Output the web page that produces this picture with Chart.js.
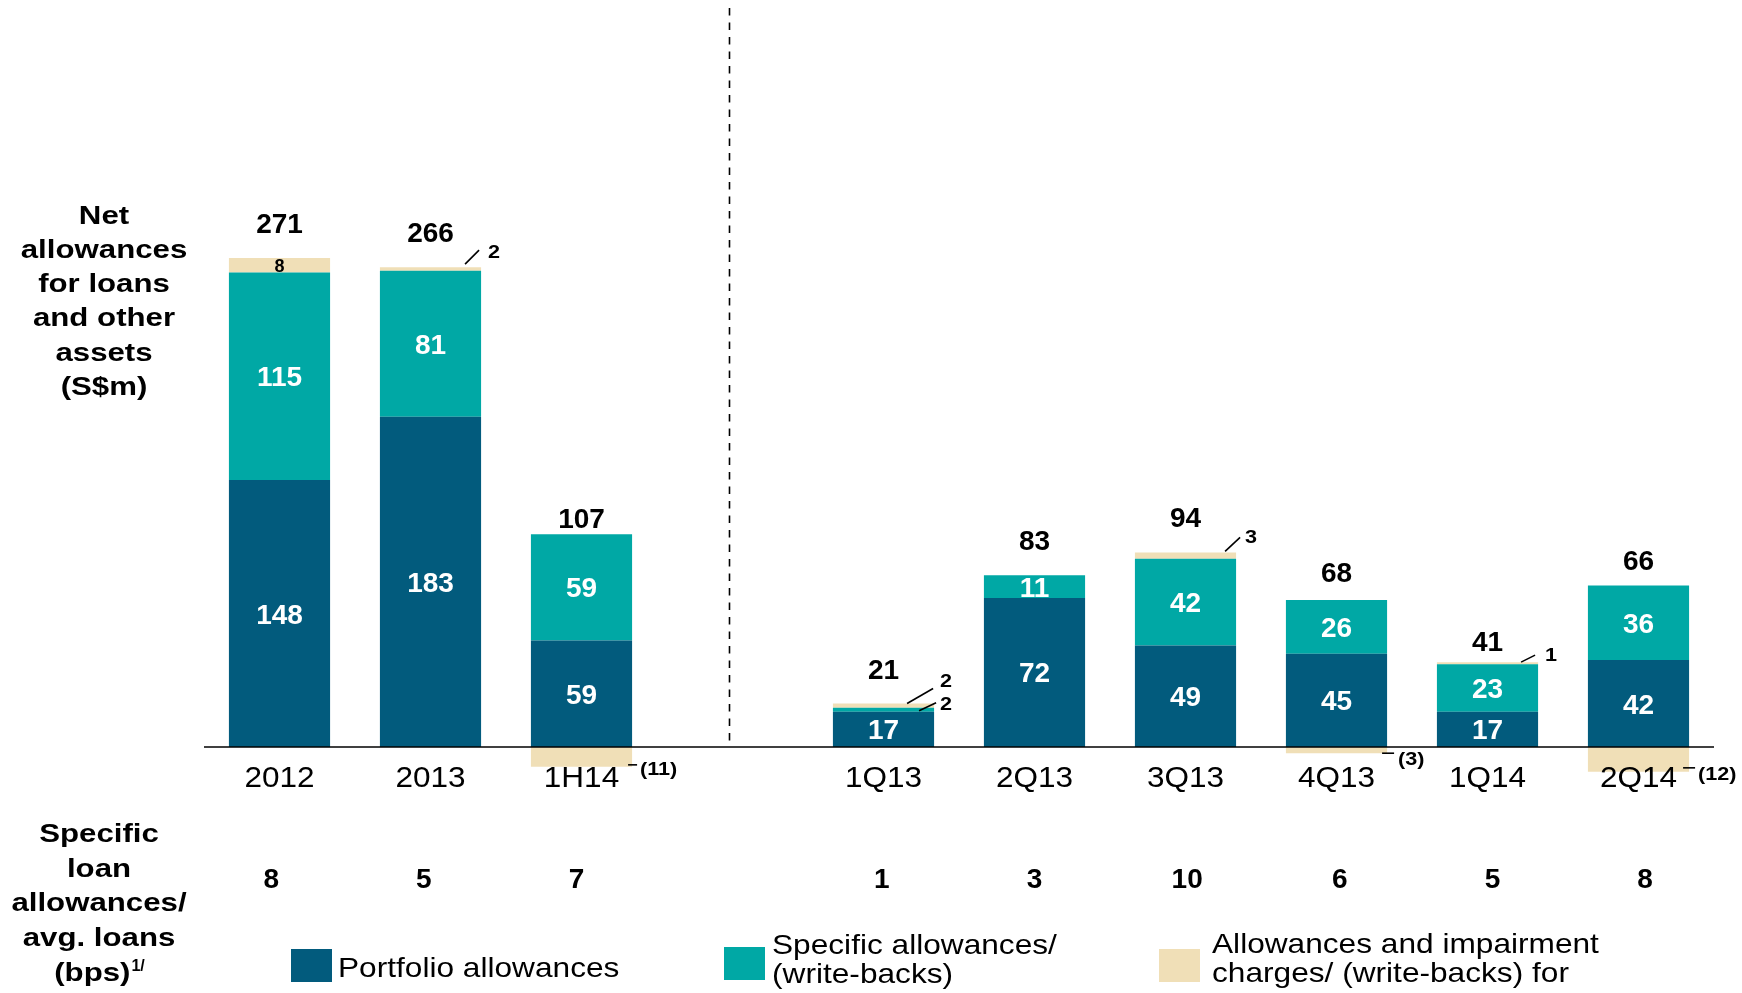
<!DOCTYPE html>
<html>
<head>
<meta charset="utf-8">
<title>Net allowances for loans and other assets</title>
<script src="https://cdn.jsdelivr.net/npm/chart.js@4.4.1/dist/chart.umd.min.js"></script>
<style>
  html, body { margin: 0; padding: 0; background: #fff; }
  #wrap { width: 1742px; height: 993px; position: relative; }
</style>
</head>
<body>
<div id="wrap"><canvas id="chart"></canvas></div>
<script>
const categorias = ['2012', '2013', '1H14', '', '1Q13', '2Q13', '3Q13', '4Q13', '1Q14', '2Q14'];
const portfolio = [148, 183, 59, null, 17, 72, 49, 45, 17, 42];
const specific = [115, 81, 59, null, 2, 11, 42, 26, 23, 36];
const otherAssets = [8, 2, -11, null, 2, 0, 3, -3, 1, -12];
const bps = [8, 5, 7, null, 1, 3, 10, 6, 5, 8];
const annualCount = 3;

const seriesNames = ['Portfolio allowances', 'Specific allowances/ (write-backs)', 'Allowances and impairment charges/ (write-backs) for other assets'];
const cores = ['#025b7d', '#00a8a5', '#f0dfb7'];

const tituloTopo = ['Net', 'allowances', 'for loans', 'and other', 'assets', '(S$m)'];
const tituloBase = ['Specific', 'loan', 'allowances/', 'avg. loans', '(bps)'];

const FONT = "'Liberation Sans', Arial, sans-serif";

// small segments labelled outside the bar: line and text offsets from (bar right edge, segment end)
const callouts = [
  { i: 1, k: 2, txt: '2', line: [-16, -3, -2, -17], at: [7, -9] },
  { i: 4, k: 2, txt: '2', line: [-27, 0, -1, -15], at: [6, -17] },
  { i: 4, k: 1, txt: '2', line: [-15, 3, 2, -5], at: [6, 2] },
  { i: 6, k: 2, txt: '3', line: [-11, -1, 4, -15], at: [9, -9] },
  { i: 8, k: 2, txt: '1', line: [-17, 0, -3, -7], at: [7, -1] },
  { i: 2, k: 2, txt: '(11)', line: [-4, -2, 5, -2], at: [8, 8] },
  { i: 7, k: 2, txt: '(3)', line: [-5, 0, 7, 0], at: [11, 12] },
  { i: 9, k: 2, txt: '(12)', line: [-6, -4, 6, -4], at: [9, 8] }
];
const totalGap = [25, 25, 6, 0, 25, 25, 25, 18, 11, 16];

function txt(ctx, s, x, y, font, color, align, sx) {
  sx = sx || 1;
  ctx.save();
  ctx.font = font;
  const w = ctx.measureText(s).width * sx;
  let left = x;
  if (align === 'center') left = x - w / 2;
  if (align === 'right') left = x - w;
  ctx.translate(left, y);
  ctx.scale(sx, 1);
  ctx.fillStyle = color || '#000';
  ctx.textAlign = 'left';
  ctx.textBaseline = 'alphabetic';
  ctx.fillText(s, 0, 0);
  ctx.restore();
  return w;
}

function linha(ctx, x1, y1, x2, y2, dash) {
  ctx.save();
  ctx.strokeStyle = '#000';
  ctx.lineWidth = 1.6;
  if (dash) ctx.setLineDash(dash);
  ctx.beginPath();
  ctx.moveTo(x1, y1);
  ctx.lineTo(x2, y2);
  ctx.stroke();
  ctx.restore();
}

function split(arr, annual) {
  return arr.map((v, i) => ((i < annualCount) === annual ? v : null));
}

const datasets = [];
[true, false].forEach(annual => {
  [portfolio, specific, otherAssets].forEach((arr, k) => {
    datasets.push({
      label: seriesNames[k],
      data: split(arr, annual),
      backgroundColor: cores[k],
      borderWidth: 0,
      yAxisID: annual ? 'yA' : 'yQ',
      stack: 's',
      barPercentage: 0.67,
      categoryPercentage: 1
    });
  });
});

const desenho = {
  id: 'desenho',
  afterDatasetsDraw(chart) {
    const ctx = chart.ctx;
    const xs = chart.scales.x;
    const area = chart.chartArea;
    const zero = chart.scales.yA.getPixelForValue(0);
    const seriesData = [portfolio, specific, otherAssets];
    const bar = (i, k) => chart.getDatasetMeta((i < annualCount ? 0 : 3) + k).data[i];

    categorias.forEach((c, i) => {
      if (portfolio[i] == null) return;
      seriesData.forEach((arr, k) => {
        const v = arr[i];
        if (v == null || v < 5) return;
        const el = bar(i, k);
        const mid = (el.y + el.base) / 2;
        if (k === 2) txt(ctx, String(v), el.x, mid + 7, `bold 18px ${FONT}`, '#000', 'center');
        else txt(ctx, String(v), el.x, mid + 10, `bold 28px ${FONT}`, '#fff', 'center');
      });
      const total = seriesData.reduce((s, arr) => s + (arr[i] || 0), 0);
      let top = zero;
      seriesData.forEach((arr, k) => { if (arr[i] > 0) top = Math.min(top, bar(i, k).y); });
      txt(ctx, String(total), bar(i, 0).x, top - totalGap[i], `bold 28px ${FONT}`, '#000', 'center');
    });

    callouts.forEach(c => {
      const el = bar(c.i, c.k);
      const xr = el.x + el.width / 2;
      const ey = el.y;
      linha(ctx, xr + c.line[0], ey + c.line[1], xr + c.line[2], ey + c.line[3]);
      txt(ctx, c.txt, xr + c.at[0], ey + c.at[1], `bold 18px ${FONT}`, '#000', 'left', 1.2);
    });

    // zero line and divider
    linha(ctx, area.left, zero, area.right, zero);
    const xDiv = xs.getPixelForValue(3) - 3;
    linha(ctx, xDiv, 8, xDiv, zero, [7.5, 7]);

    categorias.forEach((c, i) => {
      if (!c) return;
      txt(ctx, c, xs.getPixelForValue(i), 787, `30px ${FONT}`, '#000', 'center', 1.05);
    });
    const mid = xs.getPixelForValue(5);
    bps.forEach((v, i) => {
      if (v == null) return;
      const x = xs.getPixelForValue(i);
      txt(ctx, String(v), x + (x - mid) * 0.011, 888, `bold 28px ${FONT}`, '#000', 'center');
    });

    tituloTopo.forEach((s, n) => txt(ctx, s, 104, 223.5 + n * 34.3, `bold 26px ${FONT}`, '#000', 'center', 1.2));
    tituloBase.forEach((s, n) => {
      if (n < tituloBase.length - 1) {
        txt(ctx, s, 99, 842 + n * 34.7, `bold 26px ${FONT}`, '#000', 'center', 1.2);
      } else {
        ctx.font = `bold 26px ${FONT}`;
        const w1 = ctx.measureText(s).width * 1.2;
        ctx.font = `bold 16px ${FONT}`;
        const w2 = ctx.measureText('1/').width;
        const left = 99 - (w1 + w2) / 2;
        txt(ctx, s, left, 842 + n * 34.7, `bold 26px ${FONT}`, '#000', 'left', 1.2);
        txt(ctx, '1/', left + w1 + 1, 971, `bold 16px ${FONT}`, '#000', 'left');
      }
    });

    // legend
    const legenda = [
      { box: [291, 949], text: [338, 977], lines: ['Portfolio allowances'] },
      { box: [724, 947], text: [772, 954], lines: ['Specific allowances/', '(write-backs)'] },
      { box: [1159, 949], text: [1212, 953], lines: ['Allowances and impairment', 'charges/ (write-backs) for'] }
    ];
    legenda.forEach((l, k) => {
      ctx.fillStyle = cores[k];
      ctx.fillRect(l.box[0], l.box[1], 41, 33);
      l.lines.forEach((s, n) => txt(ctx, s, l.text[0], l.text[1] + n * 29, `28px ${FONT}`, '#000', 'left', 1.13));
    });
  }
};

new Chart(document.getElementById('chart'), {
  type: 'bar',
  data: { labels: categorias, datasets },
  options: {
    responsive: true,
    maintainAspectRatio: false,
    animation: false,
    events: [],
    layout: { padding: { left: 204, right: 28, top: 0, bottom: 0 } },
    plugins: { legend: { display: false }, tooltip: { enabled: false } },
    scales: {
      x: { display: false, stacked: true },
      yA: { display: false, stacked: true, bounds: 'data', min: -136.36, max: 414.08 },
      yQ: { display: false, stacked: true, bounds: 'data', min: -118.84, max: 360.87 }
    }
  },
  plugins: [desenho]
});
</script>
</body>
</html>
